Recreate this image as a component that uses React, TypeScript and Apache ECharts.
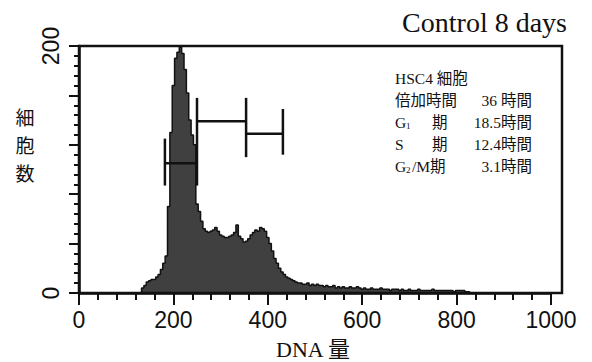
import React, { useEffect, useRef } from 'react';
import * as echarts from 'echarts';

// Histogram: DNA content (channel) vs cell count
const binStart = 130;
const binWidth = 5;
const cellCounts = [
  0, 4, 6, 9, 10, 11, 11, 13, 15, 19,
  24, 30, 70, 130, 168, 190, 195, 199, 194, 181,
  162, 140, 128, 120, 72, 66, 58, 52, 50, 49,
  50, 51, 53, 50, 47, 46, 45, 45, 46, 47,
  49, 55, 46, 44, 41, 42, 44, 47, 49, 51,
  50, 53, 52, 50, 45, 40, 34, 28, 24, 20,
  17, 15, 13, 12, 11, 10, 9, 8, 8, 7,
  7, 8, 6, 7, 6, 7, 6, 6, 5, 6,
  5, 5, 6, 4, 5, 4, 5, 4, 4, 5,
  4, 4, 5, 4, 3, 4, 3, 3, 4, 3,
  3, 3, 4, 3, 3, 3, 2, 3, 3, 3,
  2, 3, 2, 2, 3, 2, 2, 2, 3, 2,
  2, 2, 2, 2, 3, 2, 2, 2, 2, 2,
  2, 2, 2, 1, 2, 2, 2, 2, 1, 1,
  0,
];

// Phase brackets (G1, S, G2/M)
const bracketStart = [182, 250, 354];
const bracketEnd = [250, 354, 432];
const bracketLevel = [105, 139, 129];
const capX = [182, 250, 354, 432];
const capLow = [87, 87, 110, 112];
const capHigh = [125, 158, 158, 149];

const yLabelValues = [0, 200];
const xMax = 1000;
const yMax = 200;

const titleText = 'Control 8 days';
const yAxisTitle = ['細', '胞', '数'];
const xAxisTitle = 'DNA 量';
const infoHeader = 'HSC4 細胞';
const infoLabels = ['倍加時間', 'G', 'S', 'G'];
const infoMid = ['', '期', '期', '/M期'];
const infoSubs = ['', '1', '', '2'];
const infoValues = ['36 時間', '18.5時間', '12.4時間', '3.1時間'];

const SERIF = "'Liberation Serif', 'Noto Sans CJK JP', serif";
const SANS = "'Liberation Sans', Arial, sans-serif";

export default function App() {
  const ref = useRef<HTMLDivElement>(null);
  useEffect(() => {
    if (!ref.current) return;
    const chart = echarts.init(ref.current, null, { renderer: 'svg' });
    const histData = cellCounts.map((c, i) => [binStart + i * binWidth, c]);
    const bracketData = bracketStart.map((s, i) => [s, bracketEnd[i], bracketLevel[i]]);
    const capData = capX.map((x, i) => [x, capLow[i], capHigh[i]]);

    const lineTop = 78;
    const lineGap = 22;
    const infoFont = `15.5px ${SERIF}`;
    const graphics: any[] = [
      {
        type: 'text', right: 25, top: 8,
        style: { text: titleText, font: `28px ${SERIF}`, fill: '#111' },
      },
      {
        type: 'text', x: 313, y: 338,
        style: { text: xAxisTitle, font: `22px ${SERIF}`, fill: '#111', align: 'center', verticalAlign: 'top' },
      },
      {
        type: 'rect', shape: { x: 79, y: 46, width: 483, height: 247 },
        style: { fill: 'none', stroke: '#111', lineWidth: 2.5 }, z: 10,
      },
      {
        type: 'text', x: 395, y: lineTop,
        style: { text: infoHeader, font: infoFont, fill: '#111', verticalAlign: 'middle' },
      },
    ];
    yAxisTitle.forEach((ch, i) => {
      graphics.push({
        type: 'text', x: 25, y: 116 + i * 28,
        style: { text: ch, font: `19px 'Noto Sans CJK JP'`, fill: '#111', align: 'center', verticalAlign: 'middle' },
      });
    });
    infoLabels.forEach((lab, i) => {
      const y = lineTop + lineGap * (i + 1);
      graphics.push({
        type: 'text', x: 395, y,
        style: { text: lab, font: infoFont, fill: '#111', verticalAlign: 'middle' },
      });
      if (infoSubs[i]) {
        graphics.push({
          type: 'text', x: 406, y: y + 4,
          style: { text: infoSubs[i], font: `9px ${SERIF}`, fill: '#111', verticalAlign: 'middle' },
        });
      }
      if (infoMid[i]) {
        const midX = infoMid[i] === '期' ? 432 : 412;
        graphics.push({
          type: 'text', x: midX, y,
          style: { text: infoMid[i], font: infoFont, fill: '#111', verticalAlign: 'middle' },
        });
      }
      graphics.push({
        type: 'text', x: 532, y,
        style: { text: infoValues[i], font: infoFont, fill: '#111', align: 'right', verticalAlign: 'middle' },
      });
    });

    chart.setOption({
      animation: false,
      backgroundColor: '#fff',
      grid: { left: 79, right: 41, top: 46, bottom: 69, containLabel: false },
      xAxis: {
        type: 'value', min: 0, max: xMax, interval: 200,
        axisLine: { show: true, lineStyle: { color: '#111', width: 2.5 } },
        axisTick: { show: true, length: 12, lineStyle: { color: '#111', width: 2 } },
        minorTick: { show: true, splitNumber: 5, length: 7, lineStyle: { color: '#111', width: 2 } },
        splitLine: { show: false },
        axisLabel: { margin: 15, fontSize: 23, fontFamily: SANS, color: '#111', formatter: (v: number) => String(v) },
      },
      yAxis: {
        type: 'value', min: 0, max: yMax, interval: 40,
        axisLine: { show: true, lineStyle: { color: '#111', width: 2.5 } },
        axisTick: { show: true, length: 10, lineStyle: { color: '#111', width: 2 } },
        minorTick: { show: true, splitNumber: 5, length: 5, lineStyle: { color: '#111', width: 2 } },
        splitLine: { show: false },
        axisLabel: {
          margin: 17, rotate: 90, fontSize: 23, fontFamily: SANS, color: '#111',
          formatter: (v: number) => (yLabelValues.includes(v) ? String(v) : ''),
        },
      },
      series: [
        {
          type: 'line', data: histData, step: 'middle', symbol: 'none',
          lineStyle: { color: '#111', width: 1.5 },
          areaStyle: { color: '#404040', opacity: 1 },
          z: 2,
        },
        {
          type: 'custom', data: bracketData, encode: { x: [0, 1], y: 2 }, z: 5,
          renderItem: (_p: any, api: any) => {
            const a = api.coord([api.value(0), api.value(2)]);
            const b = api.coord([api.value(1), api.value(2)]);
            return { type: 'line', shape: { x1: a[0], y1: a[1], x2: b[0], y2: b[1] }, style: { stroke: '#111', lineWidth: 2.5 } };
          },
        },
        {
          type: 'custom', data: capData, encode: { x: 0, y: [1, 2] }, z: 5,
          renderItem: (_p: any, api: any) => {
            const a = api.coord([api.value(0), api.value(1)]);
            const b = api.coord([api.value(0), api.value(2)]);
            return { type: 'line', shape: { x1: a[0], y1: a[1], x2: b[0], y2: b[1] }, style: { stroke: '#111', lineWidth: 2.5 } };
          },
        },
      ],
      graphic: graphics,
    });
    return () => chart.dispose();
  }, []);
  return <div ref={ref} style={{ position: 'fixed', left: 0, top: 0, width: 592, height: 362 }} />;
}
